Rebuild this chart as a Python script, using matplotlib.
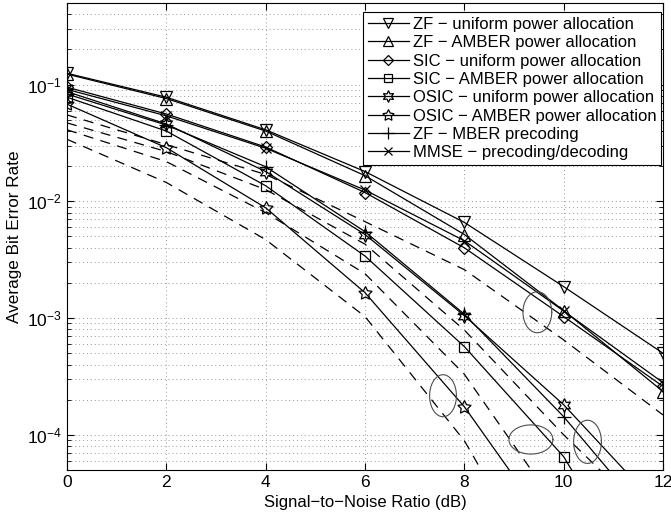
import numpy as np
import matplotlib
matplotlib.use("Agg")
import matplotlib.pyplot as plt
from matplotlib.ticker import LogLocator, NullFormatter, FixedLocator

plt.rcParams['font.family'] = ['Liberation Sans', 'DejaVu Sans']
plt.rcParams['mathtext.fontset'] = 'custom'
plt.rcParams['mathtext.rm'] = 'Liberation Sans'
plt.rcParams['mathtext.it'] = 'Liberation Sans:italic'

snr = [0, 2, 4, 6, 8, 10, 12]

# simulated curves (solid, with markers)
zf_uniform = [0.125, 0.078, 0.041, 0.018, 6.6e-3, 1.86e-3, 5.0e-4]
zf_amber = [0.123, 0.076, 0.040, 0.0166, 5.2e-3, 1.16e-3, 2.35e-4]
sic_uniform = [0.095, 0.056, 0.0292, 0.0119, 4.0e-3, 1.03e-3, 2.6e-4]
sic_amber = [0.078, 0.040, 0.0136, 3.4e-3, 5.7e-4, 6.5e-5, 2.5e-6]
osic_uniform = [0.087, 0.046, 0.018, 5.2e-3, 1.05e-3, 1.81e-4, 2.2e-5]
osic_amber = [0.068, 0.0288, 8.8e-3, 1.65e-3, 1.74e-4, 1.1e-5, 3e-7]
zf_mber = [0.083, 0.045, 0.0198, 5.5e-3, 1.08e-3, 1.43e-4, 1.4e-5]
mmse = [0.091, 0.054, 0.0285, 0.0125, 4.6e-3, 1.15e-3, 2.8e-4]

# dashed reference curves (no legend entry)
dash1 = [0.055, 0.0306, 0.017, 6.7e-3, 2.6e-3, 6.5e-4, 1.48e-4]
dash2 = [0.047, 0.0267, 0.0126, 4.3e-3, 7.9e-4, 1.0e-4, 1.5e-5]
dash3 = [0.041, 0.0219, 8.0e-3, 2.4e-3, 3.3e-4, 2.0e-5, 1e-6]
dash4 = [0.034, 0.0145, 4.7e-3, 1.03e-3, 8.9e-5, 3e-6, 1e-7]

labels = ["ZF \u2212 uniform power allocation",
          "ZF \u2212 AMBER power allocation",
          "SIC \u2212 uniform power allocation",
          "SIC \u2212 AMBER power allocation",
          "OSIC \u2212 uniform power allocation",
          "OSIC \u2212 AMBER power allocation",
          "ZF \u2212 MBER precoding",
          "MMSE \u2212 precoding/decoding"]

# ellipse annotations: centre snr, centre log10(ber), width (dB), height (decades)
ell_x = [9.47, 7.57, 9.34, 10.48]
ell_logy = [-2.95, -3.665, -4.04, -4.06]
ell_w = [0.58, 0.54, 0.885, 0.56]
ell_h = [0.351, 0.36, 0.25, 0.37]

fig = plt.figure(figsize=(6.71, 5.2), dpi=100)
ax = fig.add_axes([0.0999, 0.0962, 0.8882, 0.8980])

for d in (dash1, dash2, dash3, dash4):
    ax.plot(snr, d, color='k', lw=0.9, ls=(0, (8, 6)))

series = [
    (zf_uniform, 'v', 9),
    (zf_amber, '^', 9),
    (sic_uniform, 'D', 6.5),
    (sic_amber, 's', 7),
    (osic_uniform, (6, 1, 0), 10),
    (osic_amber, (5, 1, 0), 10),
    (zf_mber, '+', 10),
    (mmse, 'x', 7),
]
for (vals, mk, ms), lab in zip(series, labels):
    ax.plot(snr, vals, color='k', lw=0.9, marker=mk, ms=ms, mfc='none',
            mec='k', mew=0.9, label=lab)

t = np.linspace(0, 2 * np.pi, 200)
for cx, cy, w, h in zip(ell_x, ell_logy, ell_w, ell_h):
    ax.plot(cx + w / 2 * np.cos(t), 10 ** (cy + h / 2 * np.sin(t)),
            color='0.3', lw=0.8)

ax.set_yscale('log')
ax.set_xlim(0, 12)
ax.set_ylim(5e-5, 0.5)
ax.xaxis.set_major_locator(FixedLocator(snr))
ax.yaxis.set_major_locator(LogLocator(base=10, numticks=10))
ax.yaxis.set_minor_locator(LogLocator(base=10, subs=np.arange(2, 10), numticks=20))
ax.yaxis.set_minor_formatter(NullFormatter())

ax.grid(True, which='major', axis='both', ls=(0, (1, 3)), lw=0.7, color='0.6')
ax.grid(True, which='minor', axis='y', ls=(0, (1, 3)), lw=0.7, color='0.6')
ax.tick_params(which='both', direction='in', top=True, right=True, labelsize=12.5)
ax.tick_params(which='major', length=5, width=0.8)
ax.tick_params(which='minor', length=3, width=0.6)
for sp in ax.spines.values():
    sp.set_linewidth(0.8)

ax.set_xlabel("Signal\u2212to\u2212Noise Ratio (dB)", fontsize=12)
ax.set_ylabel("Average Bit Error Rate", fontsize=12.3)

leg = ax.legend(loc='upper right', bbox_to_anchor=(0.997, 0.981), fontsize=12,
                frameon=True, fancybox=False, edgecolor='k', framealpha=1,
                borderaxespad=0, handlelength=2.5, handletextpad=0.2,
                labelspacing=0.2, borderpad=0.3, markerscale=0.85)
leg.get_frame().set_linewidth(0.8)

fig.savefig("out.png", dpi=100)
